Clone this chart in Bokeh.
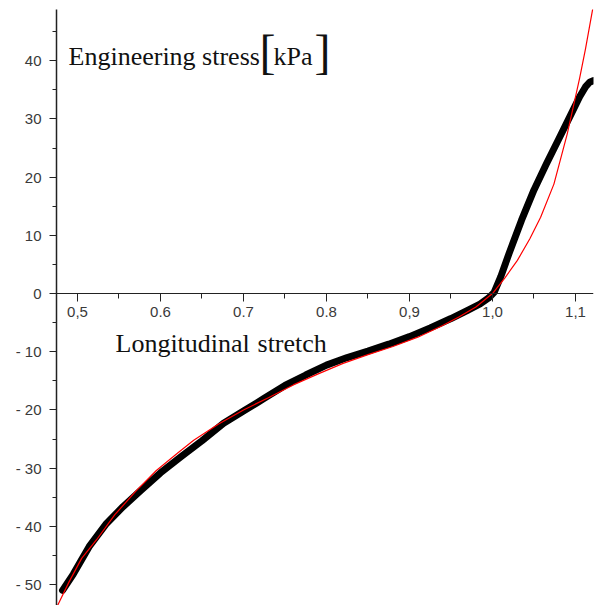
from bokeh.plotting import figure
from bokeh.models import Range1d, FixedTicker, Label
from bokeh.embed import file_html
from bokeh.resources import INLINE

# ---- data ----
measured_stretch = [0.482, 0.495, 0.514, 0.535, 0.555, 0.575, 0.600, 0.625, 0.650, 0.676,
                    0.700, 0.716, 0.725, 0.750, 0.775, 0.800, 0.825, 0.850, 0.875, 0.900,
                    0.925, 0.950, 0.970, 0.985, 0.995, 1.002, 1.010, 1.020, 1.035, 1.050,
                    1.065, 1.080, 1.095, 1.105, 1.112, 1.117, 1.122]
measured_stress = [-51.0, -48.2, -43.5, -39.5, -36.6, -34.0, -30.8, -28.0, -25.3, -22.3,
                   -20.2, -18.8, -18.0, -15.8, -14.0, -12.3, -11.0, -9.9, -8.7, -7.4,
                   -5.9, -4.3, -2.9, -1.8, -0.8, 0.2, 2.9, 6.9, 12.6, 17.8,
                   22.3, 26.6, 30.9, 33.8, 35.5, 36.3, 36.6]

model_stretch = [0.476, 0.490, 0.505, 0.523, 0.545, 0.570, 0.595, 0.620, 0.640, 0.670,
                 0.700, 0.730, 0.760, 0.790, 0.820, 0.850, 0.880, 0.910, 0.940, 0.960,
                 0.980, 1.000, 1.015, 1.030, 1.045, 1.058, 1.074, 1.090, 1.098, 1.105,
                 1.112, 1.120, 1.124]
model_stress = [-53.6, -49.5, -45.5, -42.3, -38.0, -34.0, -30.4, -27.5, -25.2, -22.4,
                -20.0, -17.9, -15.7, -13.8, -12.0, -10.5, -9.1, -7.5, -5.5, -4.0,
                -2.3, 0.0, 2.7, 5.7, 9.4, 13.1, 18.8, 27.4, 32.5, 37.0,
                42.0, 48.3, 51.5]

x_ticks = [0.5, 0.6, 0.7, 0.8, 0.9, 1.0, 1.1]
x_tick_labels = ["0,5", "0.6", "0.7", "0.8", "0,9", "1,0", "1,1"]
x_minor_ticks = [0.55, 0.65, 0.75, 0.85, 0.95, 1.05]

y_ticks = [-50, -40, -30, -20, -10, 0, 10, 20, 30, 40]
y_tick_labels = ["- 50", "- 40", "- 30", "- 20", "- 10", "0", "10", "20", "30", "40"]
y_minor_ticks = [-45, -35, -25, -15, -5, 5, 15, 25, 35, 45]

y_title = "Engineering stress"
y_unit = "kPa"
x_title_words = ["Longitudinal", "stretch"]

# ---- figure ----
p = figure(width=596, height=605, output_backend="svg", toolbar_location=None,
           x_range=Range1d(0.4747, 1.1217), y_range=Range1d(-53.6, 48.8),
           min_border_left=56, min_border_right=3, min_border_top=9, min_border_bottom=0)
p.outline_line_color = None
p.xgrid.visible = False
p.ygrid.visible = False
p.background_fill_color = "white"
p.border_fill_color = "white"

axis_color = "#222222"
label_color = "#3a3a3a"

xa = p.xaxis[0]
xa.fixed_location = 0
xa.ticker = FixedTicker(ticks=x_ticks, minor_ticks=x_minor_ticks)
xa.major_label_overrides = dict(zip(x_ticks, x_tick_labels))
xa.major_tick_in = 0
xa.major_tick_out = 8
xa.minor_tick_in = 0
xa.minor_tick_out = 5
xa.major_label_standoff = 5
xa.axis_line_color = axis_color
xa.major_tick_line_color = axis_color
xa.minor_tick_line_color = axis_color
xa.major_label_text_font = "Liberation Sans"
xa.major_label_text_font_size = "15px"
xa.major_label_text_color = label_color

ya = p.yaxis[0]
ya.ticker = FixedTicker(ticks=y_ticks, minor_ticks=y_minor_ticks)
ya.major_label_overrides = dict(zip(y_ticks, y_tick_labels))
ya.major_tick_in = 0
ya.major_tick_out = 7
ya.minor_tick_in = 0
ya.minor_tick_out = 4
ya.major_label_standoff = 8
ya.axis_line_color = axis_color
ya.axis_line_width = 1.5
ya.major_tick_line_color = axis_color
ya.minor_tick_line_color = axis_color
ya.major_label_text_font = "Liberation Sans"
ya.major_label_text_font_size = "15px"
ya.major_label_text_color = label_color

# ---- curves ----
p.line(measured_stretch, measured_stress, line_color="black", line_width=7,
       line_cap="round", line_join="round")
p.line(model_stretch, model_stress, line_color="#ff0000", line_width=1.2)

# ---- texts ----
serif = "Liberation Serif"
p.add_layout(Label(x=0.4892, y=40.7, text=y_title, text_font=serif, text_font_size="26px",
                   text_color="#111111", text_baseline="alphabetic", text_align="left"))
p.add_layout(Label(x=0.7193, y=41.6, text="[", text_font=serif, text_font_size="48px",
                   text_color="#111111", text_baseline="alphabetic", text_align="left"))
p.add_layout(Label(x=0.7361, y=40.7, text=y_unit, text_font=serif, text_font_size="26px",
                   text_color="#111111", text_baseline="alphabetic", text_align="left"))
p.add_layout(Label(x=0.7856, y=41.6, text="]", text_font=serif, text_font_size="48px",
                   text_color="#111111", text_baseline="alphabetic", text_align="left"))
p.add_layout(Label(x=0.5458, y=-8.6, text=x_title_words[0], text_font=serif, text_font_size="26px",
                   text_color="#111111", text_baseline="alphabetic", text_align="left"))
p.add_layout(Label(x=0.7169, y=-8.6, text=x_title_words[1], text_font=serif, text_font_size="26px",
                   text_color="#111111", text_baseline="alphabetic", text_align="left"))

open("out.html", "w").write(file_html(p, INLINE))
